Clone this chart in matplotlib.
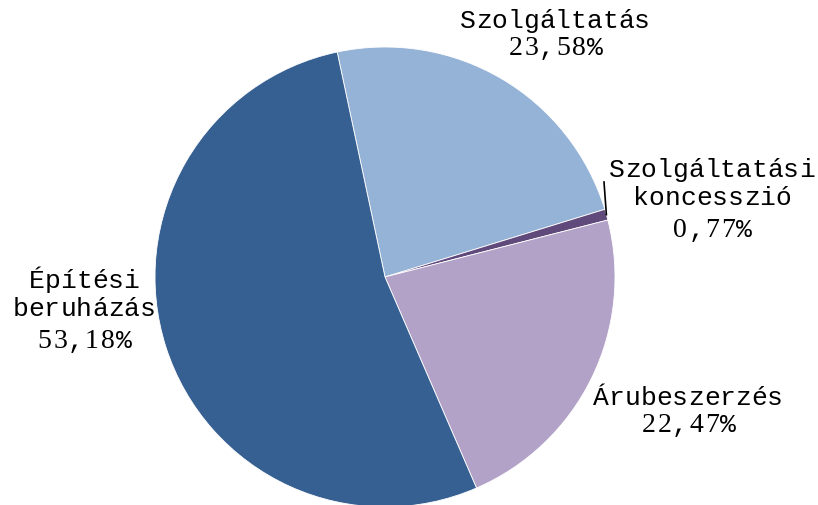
import matplotlib
matplotlib.use("Agg")
import matplotlib.pyplot as plt
import numpy as np
from matplotlib.transforms import offset_copy

# data
labels = ["Szolgáltatás", "Szolgáltatási koncesszió", "Árubeszerzés", "Építési beruházás"]
shares = [23.58, 0.77, 22.47, 53.18]
colors = ["#95B3D7", "#604A7B", "#B3A2C7", "#376092"]

# label text lines and their centre/baseline in pixels (from top-left)
label_lines = [["Szolgáltatás"], ["Szolgáltatási", "koncesszió"], ["Árubeszerzés"], ["Építési", "beruházás"]]
label_pos = [(555, 28), (712, 177), (688, 405), (84, 288)]

W, H = 818, 505
CX, CY, R = 385, 277, 230
FS = 19
ADV = 0.6 * FS  # monospace advance in points

fig = plt.figure(figsize=(W / 100, H / 100), dpi=100)
ax = fig.add_axes([0, 0, 1, 1])

wedges, _ = ax.pie(shares, colors=colors, startangle=102, counterclock=False,
                   radius=1, center=(0, 0),
                   wedgeprops=dict(edgecolor="white", linewidth=0.6))
ax.set_xlim(-CX / R, (W - CX) / R)
ax.set_ylim(-(H - CY) / R, CY / R)
ax.set_aspect("equal")
ax.axis("off")


def px(x, y):
    return (x - CX) / R, (CY - y) / R


def mono_line(text, x, y, digit_serif=False):
    n = len(text)
    for i, ch in enumerate(text):
        dx = (i - (n - 1) / 2) * ADV
        tr = offset_copy(ax.transData, fig=fig, x=dx, y=0, units="points")
        fam = "Liberation Serif" if (digit_serif and ch.isdigit()) else "Liberation Mono"
        size = FS + 1 if (digit_serif and ch.isdigit()) else FS
        ax.text(x, y, ch, transform=tr, ha="center", va="baseline",
                fontsize=size, family=fam, color="black")


LINE = 28
for lines, (lx, ly), val in zip(label_lines, label_pos, shares):
    for k, t in enumerate(lines):
        mono_line(t, *px(lx, ly + k * LINE))
    pct = f"{val:.2f}".replace(".", ",") + "%"
    extra = 5 if len(lines) > 1 else 0
    mono_line(pct, *px(lx, ly + len(lines) * LINE + extra - 1), digit_serif=True)

# leader line for the thin slice
w = wedges[1]
mid = np.deg2rad((w.theta1 + w.theta2) / 2)
ax.plot([np.cos(mid), px(604, 182)[0]], [np.sin(mid), px(604, 182)[1]],
        color="black", linewidth=1.2)

fig.savefig("out.png", dpi=100)
